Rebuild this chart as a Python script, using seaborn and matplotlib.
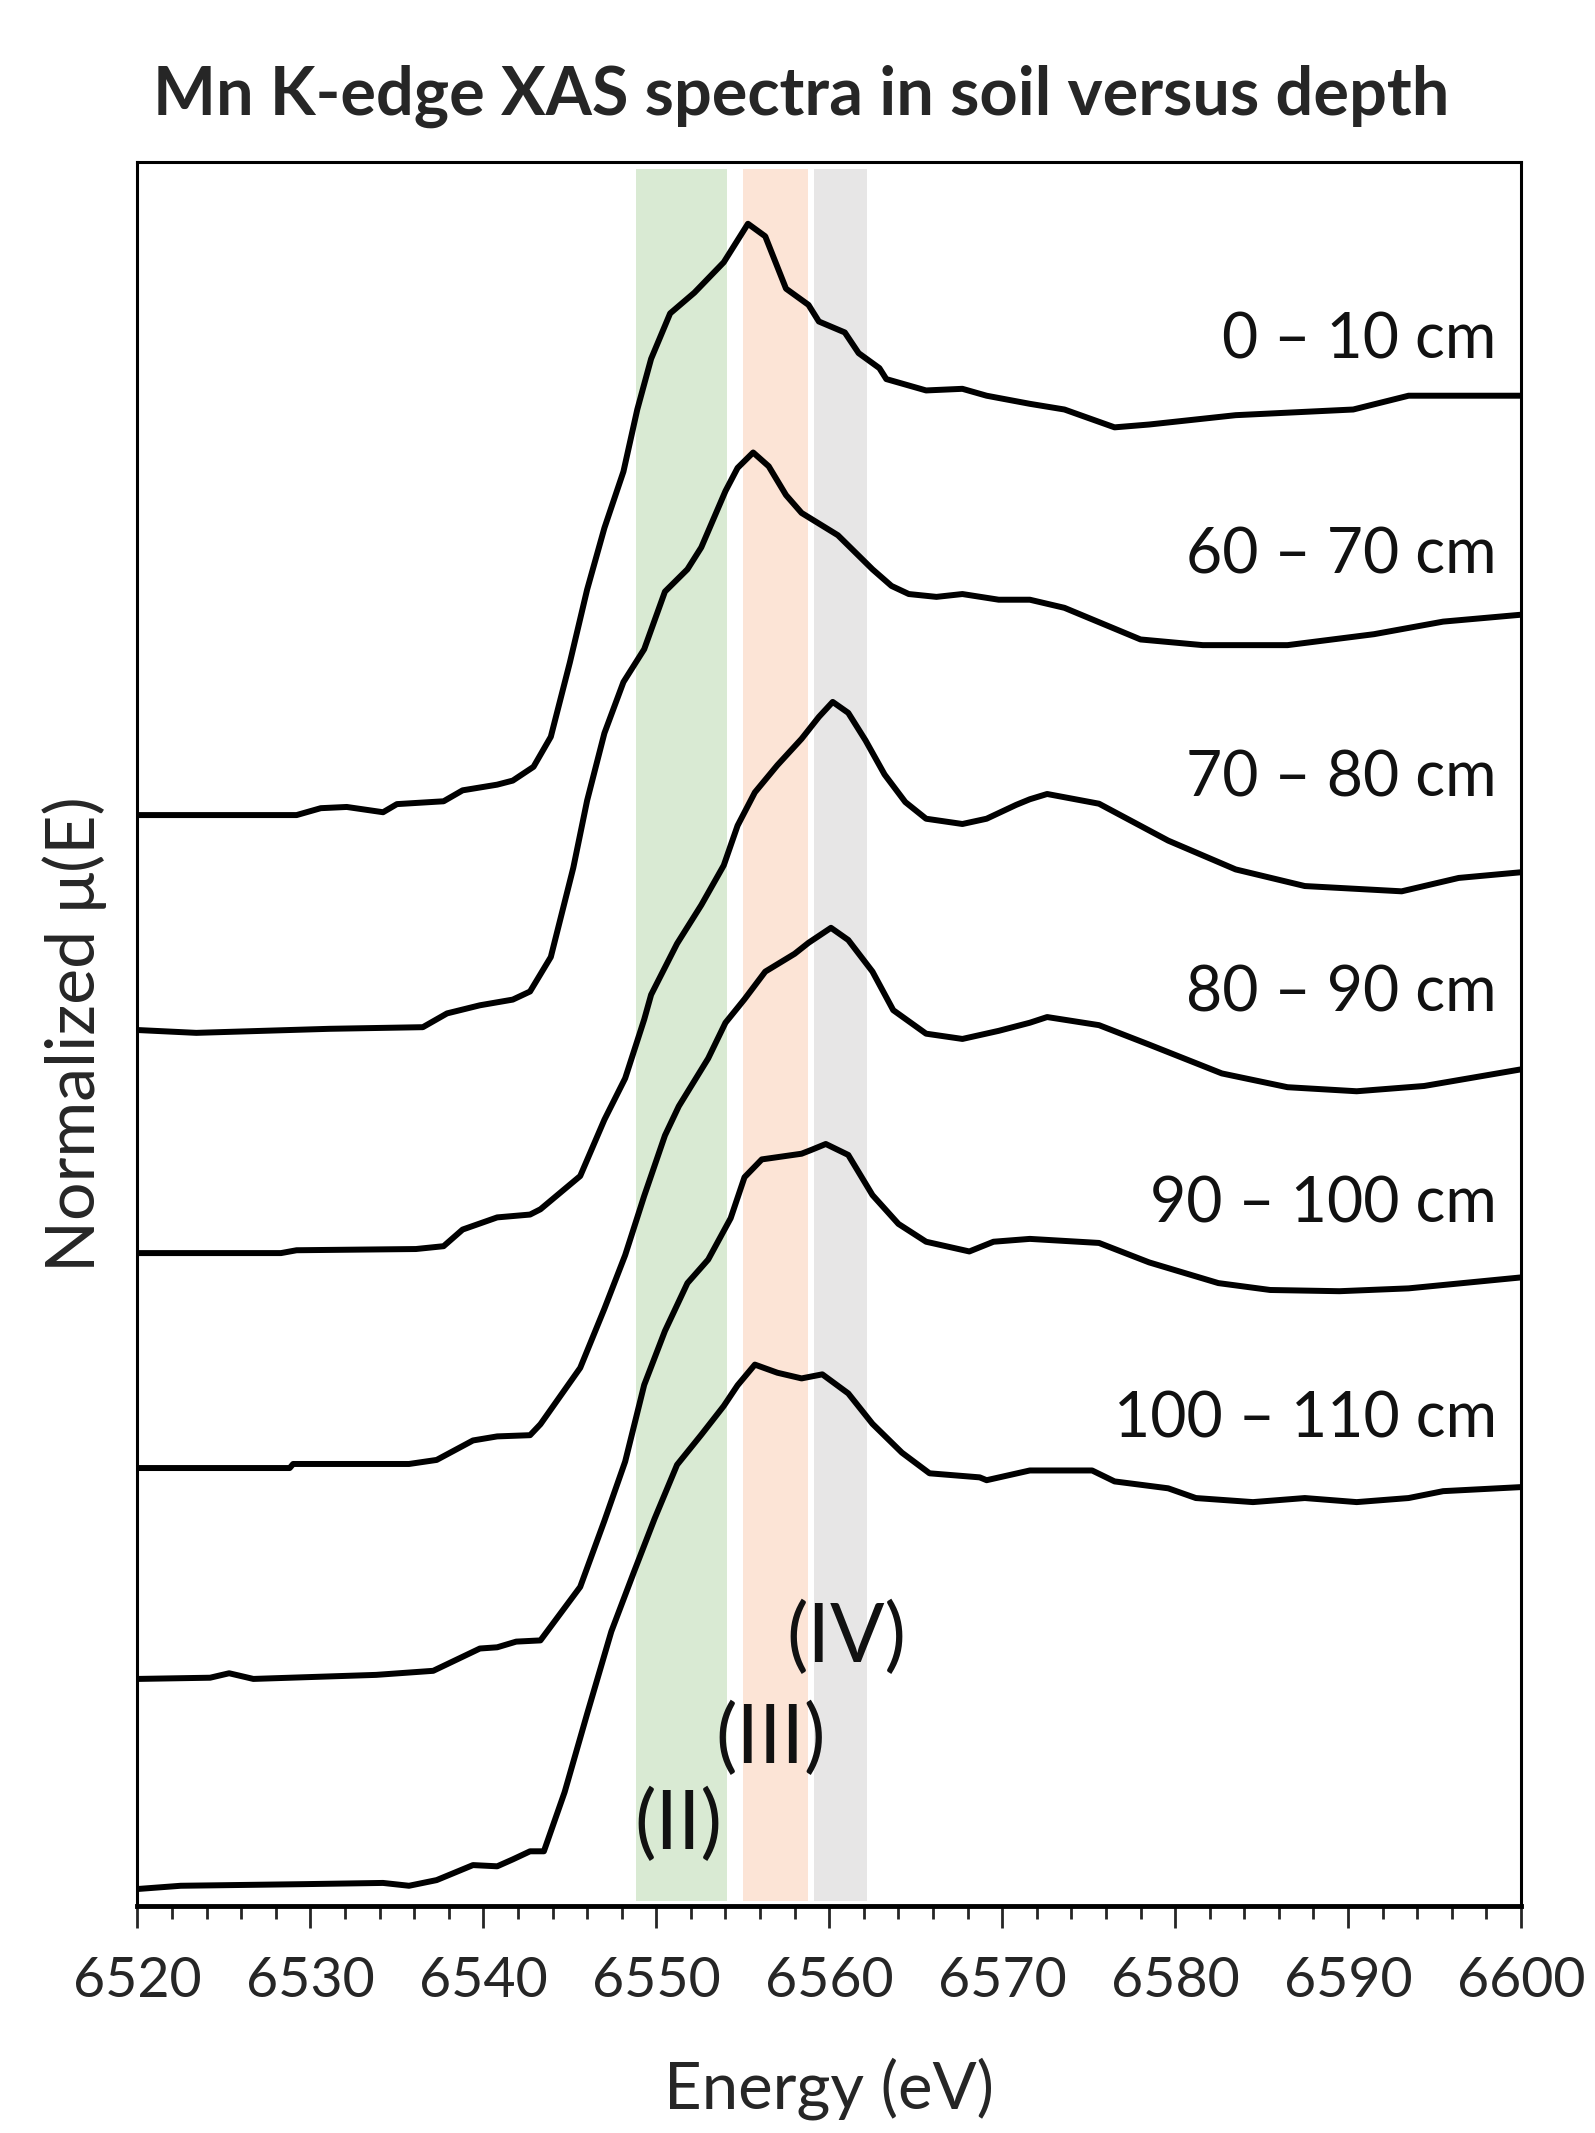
import numpy as np
import pandas as pd
import matplotlib
matplotlib.use('Agg')
import matplotlib.pyplot as plt
import seaborn as sns

# depth samples (top to bottom in the stack)
depths = ['0 – 10 cm', '60 – 70 cm', '70 – 80 cm', '80 – 90 cm', '90 – 100 cm', '100 – 110 cm']
offsets = [2.69, 2.16, 1.61, 1.08, 0.56, 0.03]

# energy (eV) and normalized mu(E), one pair per depth
e_0_10 = [6520.0, 6529.2, 6530.6, 6532.1, 6534.2, 6535.0, 6537.7, 6538.8, 6540.8, 6541.7,
          6542.9, 6543.9, 6545.0, 6546.0, 6547.0, 6548.1, 6548.9, 6549.7, 6550.8, 6552.2,
          6553.9, 6555.3, 6556.3, 6557.5, 6558.8, 6559.4, 6560.9, 6561.7, 6562.9, 6563.3,
          6565.6, 6567.7, 6569.1, 6571.6, 6573.6, 6576.5, 6578.5, 6583.5, 6590.3, 6593.5, 6600.0]
mu_0_10 = [0.0, 0.0, 0.017, 0.020, 0.007, 0.027, 0.034, 0.061, 0.075, 0.085,
           0.119, 0.193, 0.376, 0.556, 0.708, 0.847, 1.000, 1.125, 1.237, 1.288,
           1.363, 1.458, 1.427, 1.298, 1.258, 1.217, 1.190, 1.139, 1.102, 1.075,
           1.047, 1.051, 1.034, 1.014, 1.000, 0.956, 0.963, 0.986, 1.000, 1.034, 1.034]

e_60_70 = [6520.0, 6523.4, 6531.1, 6536.5, 6537.9, 6539.8, 6541.7, 6542.7, 6543.9, 6545.2,
           6546.0, 6547.0, 6548.1, 6549.3, 6550.5, 6551.8, 6552.6, 6554.0, 6554.7, 6555.6,
           6556.5, 6557.5, 6558.4, 6560.5, 6562.5, 6563.6, 6564.6, 6566.2, 6567.7, 6569.8,
           6571.6, 6573.6, 6578.0, 6581.6, 6586.5, 6591.5, 6595.5, 6600.0]
mu_60_70 = [0.0, -0.007, 0.003, 0.007, 0.041, 0.061, 0.075, 0.095, 0.180, 0.400,
            0.566, 0.732, 0.858, 0.939, 1.081, 1.136, 1.190, 1.329, 1.386, 1.424,
            1.390, 1.319, 1.275, 1.220, 1.136, 1.095, 1.075, 1.068, 1.075, 1.061,
            1.061, 1.041, 0.963, 0.949, 0.949, 0.976, 1.007, 1.024]

e_70_80 = [6520.0, 6528.3, 6529.2, 6536.1, 6537.7, 6538.8, 6540.8, 6542.7, 6543.3, 6545.6,
           6547.0, 6548.2, 6549.3, 6549.7, 6551.2, 6552.6, 6553.9, 6554.7, 6555.7, 6557.0,
           6558.4, 6559.4, 6560.2, 6561.1, 6562.1, 6563.2, 6564.4, 6565.6, 6567.7, 6569.1,
           6570.8, 6571.6, 6572.6, 6575.6, 6579.6, 6583.5, 6587.5, 6593.1, 6596.4, 6600.0]
mu_70_80 = [0.0, 0.0, 0.007, 0.010, 0.017, 0.058, 0.088, 0.095, 0.108, 0.190,
            0.329, 0.431, 0.576, 0.637, 0.763, 0.858, 0.956, 1.054, 1.136, 1.203,
            1.268, 1.322, 1.359, 1.332, 1.264, 1.180, 1.112, 1.071, 1.058, 1.071,
            1.105, 1.119, 1.132, 1.108, 1.017, 0.946, 0.905, 0.892, 0.925, 0.939]

e_80_90 = [6520.0, 6528.8, 6529.0, 6535.7, 6537.3, 6539.4, 6540.8, 6542.7, 6543.3, 6545.6,
           6547.0, 6548.2, 6549.3, 6550.5, 6551.3, 6553.0, 6554.0, 6555.1, 6556.3, 6558.0,
           6558.8, 6560.1, 6561.1, 6562.5, 6563.7, 6565.6, 6567.7, 6569.8, 6571.6, 6572.6,
           6575.6, 6578.5, 6582.7, 6586.5, 6590.5, 6594.4, 6600.0]
mu_80_90 = [0.0, 0.0, 0.010, 0.010, 0.020, 0.068, 0.078, 0.081, 0.108, 0.247,
            0.393, 0.525, 0.671, 0.820, 0.892, 1.010, 1.098, 1.156, 1.224, 1.268,
            1.295, 1.332, 1.302, 1.224, 1.129, 1.071, 1.058, 1.078, 1.098, 1.112,
            1.092, 1.044, 0.973, 0.939, 0.929, 0.942, 0.983]

e_90_100 = [6520.0, 6524.2, 6525.3, 6526.7, 6533.8, 6537.1, 6539.8, 6540.8, 6541.9, 6543.3,
            6545.6, 6547.0, 6548.2, 6549.3, 6550.5, 6551.8, 6553.0, 6554.3, 6555.1, 6556.1,
            6558.4, 6559.0, 6559.8, 6561.1, 6562.5, 6564.0, 6565.6, 6568.1, 6569.5, 6571.6,
            6575.6, 6578.5, 6582.5, 6585.5, 6589.5, 6593.5, 6600.0]
mu_90_100 = [0.0, 0.003, 0.014, 0.0, 0.010, 0.020, 0.075, 0.078, 0.092, 0.095,
             0.227, 0.390, 0.536, 0.725, 0.858, 0.976, 1.034, 1.136, 1.237, 1.281,
             1.295, 1.305, 1.319, 1.292, 1.193, 1.122, 1.078, 1.054, 1.078, 1.085,
             1.075, 1.027, 0.976, 0.959, 0.956, 0.963, 0.990]

e_100_110 = [6520.0, 6522.5, 6529.6, 6534.2, 6535.7, 6537.3, 6539.4, 6540.8, 6541.7, 6542.7,
             6543.5, 6544.7, 6546.0, 6547.4, 6548.7, 6549.9, 6551.2, 6552.6, 6553.9, 6554.7,
             6555.7, 6557.0, 6558.4, 6559.6, 6561.1, 6562.5, 6564.2, 6565.8, 6568.7, 6569.1,
             6571.6, 6575.2, 6576.5, 6579.6, 6581.2, 6584.5, 6587.5, 6590.5, 6593.5, 6595.5, 6600.0]
mu_100_110 = [0.012, 0.020, 0.024, 0.027, 0.020, 0.034, 0.071, 0.068, 0.085, 0.105,
              0.105, 0.251, 0.444, 0.647, 0.793, 0.925, 1.058, 1.132, 1.203, 1.254,
              1.305, 1.285, 1.271, 1.281, 1.234, 1.159, 1.088, 1.037, 1.027, 1.020,
              1.044, 1.044, 1.017, 1.000, 0.976, 0.966, 0.976, 0.966, 0.976, 0.993, 1.003]

energies = [e_0_10, e_60_70, e_70_80, e_80_90, e_90_100, e_100_110]
mus = [mu_0_10, mu_60_70, mu_70_80, mu_80_90, mu_90_100, mu_100_110]

# oxidation state regions (eV)
bands = [(6548.8, 6554.1), (6555.0, 6558.8), (6559.1, 6562.2)]
band_colors = ['#d9ead3', '#fce4d6', '#e7e6e6']
band_labels = ['(II)', '(III)', '(IV)']
band_label_pos = [(6551.3, 0.20), (6556.6, 0.41), (6561.0, 0.66)]

sns.set_theme(style='white')
plt.rcParams['font.family'] = ['Lato', 'DejaVu Sans']

fig = plt.figure(figsize=(15.95, 21.33), dpi=100)
ax = fig.add_axes([0.0862, 0.1064, 0.8674, 0.8176])

for (lo, hi), c in zip(bands, band_colors):
    ax.axvspan(lo, hi, ymin=0.003, ymax=0.996, color=c, lw=0, zorder=0)

for e, m, off, d in zip(energies, mus, offsets, depths):
    sns.lineplot(x=e, y=np.array(m) + off, ax=ax, color='black', linewidth=4.3,
                 zorder=3, solid_joinstyle='round', solid_capstyle='round')
    # label just above the post-edge end of each curve
    ax.text(6598.6, off + 1.17, d, ha='right', va='center', fontsize=45, color='#111111')

for lab, (x, y) in zip(band_labels, band_label_pos):
    ax.text(x, y, lab, ha='center', va='center', fontsize=58, color='#111111', zorder=4)

ax.set_xlim(6520, 6600)
ax.set_ylim(0, 4.30)
ax.set_xticks(np.arange(6520, 6601, 10))
ax.set_xticks(np.arange(6520, 6601, 2), minor=True)
ax.set_yticks([])
ax.tick_params(axis='x', which='major', direction='out', length=16, width=2, labelsize=40, pad=20, bottom=True)
ax.tick_params(axis='x', which='minor', direction='out', length=9, width=2, bottom=True)
for s in ax.spines.values():
    s.set_linewidth(2.2)
    s.set_color('black')
ax.spines['bottom'].set_linewidth(3.5)

ax.set_xlabel('Energy (eV)', fontsize=47, labelpad=36)
ax.set_ylabel('Normalized μ(E)', fontsize=49, labelpad=22)
fig.text(0.502, 0.955, 'Mn K-edge XAS spectra in soil versus depth', ha='center', va='center',
         fontsize=48, fontweight='bold')

fig.savefig('out.png', dpi=100, facecolor='white')
